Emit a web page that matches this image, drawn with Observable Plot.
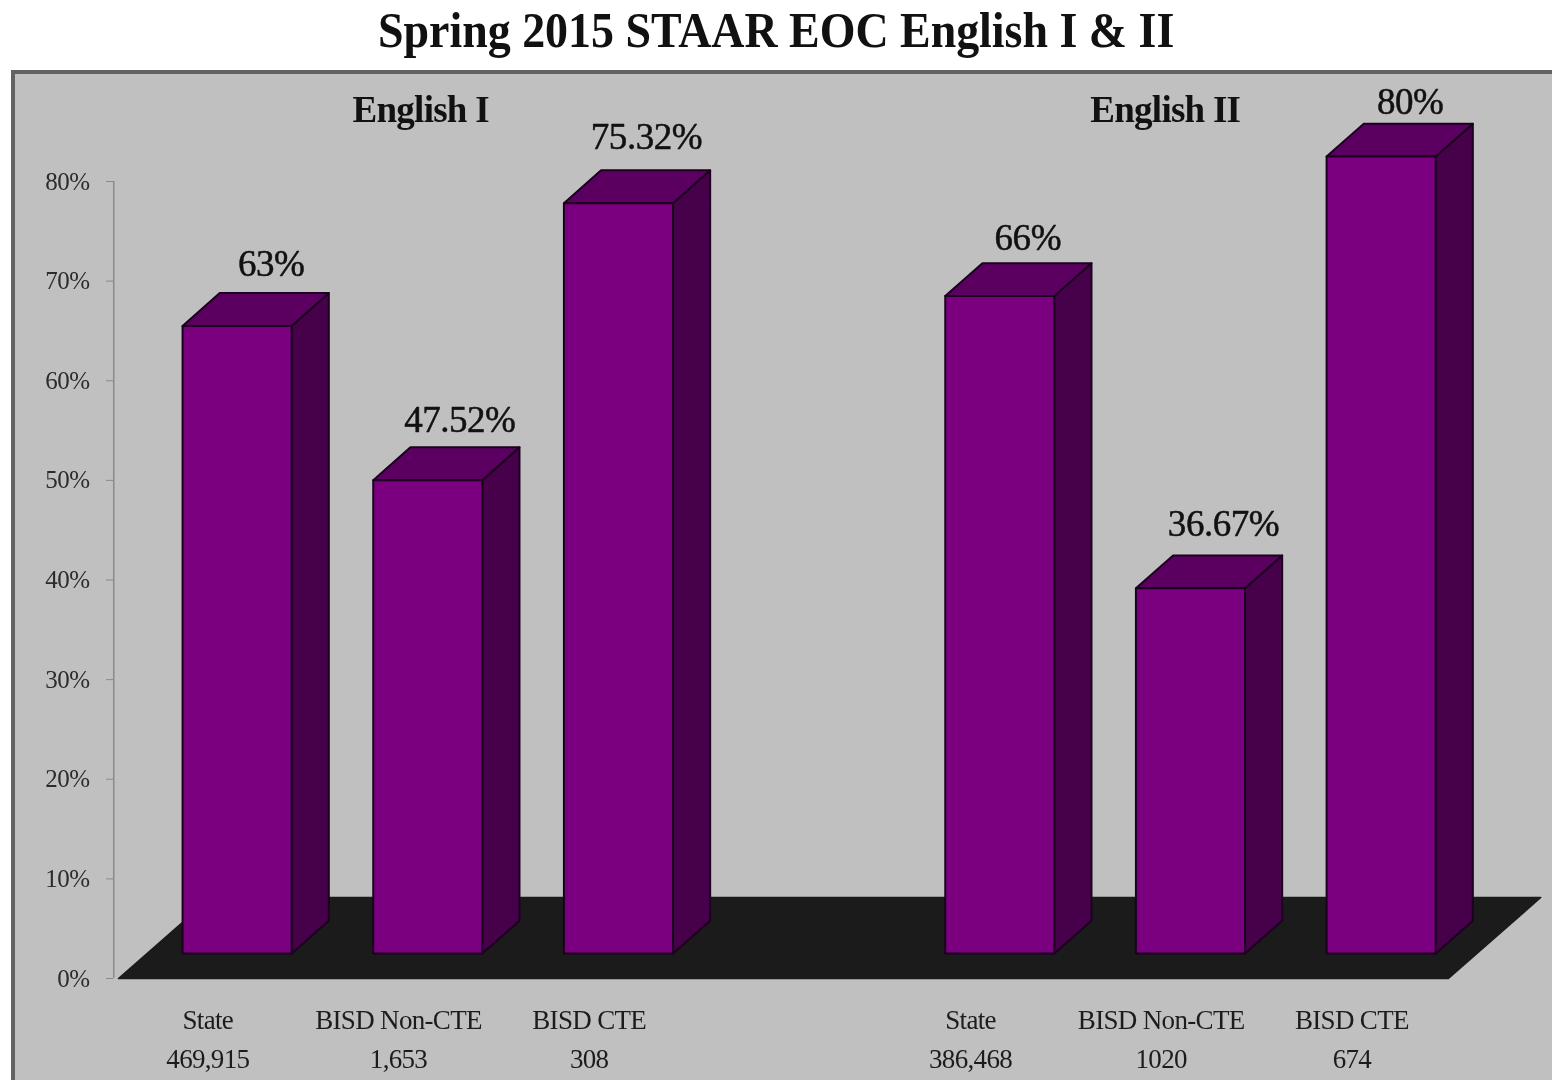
<!DOCTYPE html>
<html>
<head>
<meta charset="utf-8">
<script src="https://cdn.jsdelivr.net/npm/d3@7"></script>
<script src="https://cdn.jsdelivr.net/npm/@observablehq/plot@0.6"></script>
<style>
html,body{margin:0;padding:0;background:#fff;overflow:hidden;width:1552px;height:1080px}
#title{position:absolute;left:0;top:0;width:1552px;height:70px;text-align:center;font:bold 51px/60px "Liberation Serif",serif;color:#111;transform:scaleX(0.9);transform-origin:777.5px 0;filter:blur(0.5px)}
#panel{position:absolute;left:11px;top:70px;width:1541px;height:1010px;box-sizing:border-box;background:#c0c0c0;border-left:4px solid #636363;border-top:4px solid #636363;overflow:hidden;filter:blur(0.5px)}
#panel svg{display:block}
g[aria-label="y-axis tick label"] text{letter-spacing:-0.02em}
g[aria-label="x-axis tick label"] text{letter-spacing:-0.025em}
.value-label text{letter-spacing:-0.013em}
.test-label text{letter-spacing:-0.02em}
</style>
</head>
<body>
<div id="title">Spring 2015 STAAR EOC English I &amp; II</div>
<div id="panel"></div>
<script>
// Data
const slots = [0, 1, 2, 4, 5, 6];
const categories = ["State", "BISD Non-CTE", "BISD CTE", "State", "BISD Non-CTE", "BISD CTE"];
const counts = ["469,915", "1,653", "308", "386,468", "1020", "674"];
const values = [63, 47.52, 75.32, 66, 36.67, 80];
const valueLabels = ["63%", "47.52%", "75.32%", "66%", "36.67%", "80%"];
const tests = ["English I", "English II"];
const testCentres = [1.085, 4.99];
const yTicks = [0, 10, 20, 30, 40, 50, 60, 70, 80];

// Pseudo-3D projection, in scale units
const halfBar = 0.286;      // half the bar width
const liftX = 0.122, liftY = 2.5;      // bars stand inside the floor
const depthX = 0.195, depthY = 3.3;    // bar depth
const floorX = 0.484, floorY = 8.13;   // floor depth
const floorEnd = 6.475;
const labelDx = [34, 32, 28, 28, 33, 29];
const labelDy = [-62, -60, -66, -58, -64, -54];

const bars = slots.map((s, i) => ({s, v: values[i], label: valueLabels[i], dx: labelDx[i], dy: labelDy[i]}));
const face = (id, pts) => pts.concat([pts[0]]).map(([x, y]) => ({id, x, y}));
const L = b => b.s - halfBar + liftX, R = b => b.s + halfBar + liftX;
const fronts = bars.flatMap((b, i) => face(i, [[L(b), liftY], [R(b), liftY], [R(b), b.v + liftY], [L(b), b.v + liftY]]));
const tops = bars.flatMap((b, i) => face(i, [[L(b), b.v + liftY], [R(b), b.v + liftY], [R(b) + depthX, b.v + liftY + depthY], [L(b) + depthX, b.v + liftY + depthY]]));
const sides = bars.flatMap((b, i) => face(i, [[R(b), liftY], [R(b) + depthX, liftY + depthY], [R(b) + depthX, b.v + liftY + depthY], [R(b), b.v + liftY]]));
const floor = face(0, [[-0.5, 0], [floorEnd, 0], [floorEnd + floorX, floorY], [-0.5 + floorX, floorY]]);

const outline = {x: "x", y: "y", z: "id", stroke: "#1c0020", strokeWidth: 2};
const W = 1537, H = 1006;

const chart = Plot.plot({
  width: W, height: H,
  marginLeft: 98, marginRight: 0, marginTop: 107, marginBottom: 102,
  style: {background: "transparent", fontFamily: "'Liberation Serif', serif"},
  x: {type: "linear", domain: [-0.5, 6.5], range: [103, 1437.7]},
  y: {type: "linear", domain: [0, 80], range: [904, 107]},
  marks: [
    Plot.line(floor, {x: "x", y: "y", z: "id", fill: "#1b1b1b", stroke: "#1b1b1b"}),
    Plot.ruleX([-0.525], {y1: 0, y2: 80, stroke: "#8a8a8a", strokeWidth: 1.5}),
    Plot.axisY(yTicks, {
      anchor: "left", label: null, tickSize: 7, tickPadding: 17, stroke: "#8a8a8a",
      tickFormat: d => d + "%", fontSize: 25, fill: "#2c2c2c"
    }),
    Plot.axisX(slots, {
      anchor: "bottom", label: null, tickSize: 0, tickPadding: 23, dx: -6,
      tickFormat: d => { const i = slots.indexOf(d); return categories[i] + "\n" + counts[i]; },
      fontSize: 27, lineHeight: 1.45, fill: "#1c1c1c"
    }),
    Plot.line(sides, {...outline, fill: "#47004a"}),
    Plot.line(tops, {...outline, fill: "#5b0060"}),
    Plot.line(fronts, {...outline, fill: "#7b0080"}),
    ...bars.map(b => Plot.text([b], {
      x: d => d.s + liftX, y: d => d.v + liftY, text: "label", className: "value-label",
      dx: b.dx, dy: b.dy, fontSize: 37, fill: "#111", stroke: "#111", strokeWidth: 0.5
    })),
    Plot.text(tests, {
      x: (d, i) => testCentres[i], y: () => 87.2, text: d => d, className: "test-label",
      fontSize: 37, fontWeight: "bold", fill: "#111", clip: false
    })
  ]
});
document.getElementById("panel").appendChild(chart);
</script>
</body>
</html>
